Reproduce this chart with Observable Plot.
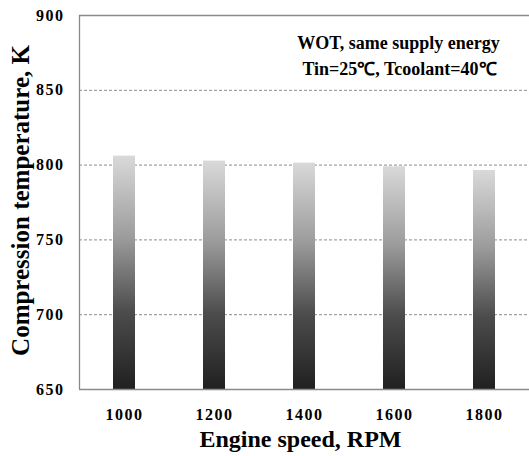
<!DOCTYPE html>
<html>
<head>
<meta charset="utf-8">
<script src="https://cdn.jsdelivr.net/npm/d3@7"></script>
<script src="https://cdn.jsdelivr.net/npm/@observablehq/plot@0.6"></script>
<style>
  html, body { margin: 0; padding: 0; background: #fff; }
  #chart svg { display: block; }
  #chart svg, #chart svg text { font-family: 'Liberation Serif', 'Times New Roman', serif !important; font-weight: bold; }
  #chart svg g[aria-label="x-axis tick label"] text,
  #chart svg g[aria-label="y-axis tick label"] text { letter-spacing: 1.5px; }
</style>
</head>
<body>
<div id="chart"></div>
<script>
const speeds = ["1000", "1200", "1400", "1600", "1800"];
const temps = [806.0, 802.7, 801.3, 798.9, 796.4];
const yTicks = [650, 700, 750, 800, 850, 900];
const gridTicks = [700, 750, 800, 850];
const yDomain = [650, 900];
const annotation = ["WOT, same supply energy", "Tin=25℃, Tcoolant=40℃"];
const xTitle = "Engine speed, RPM";
const yTitle = "Compression temperature, K";

const data = speeds.map((s, i) => ({speed: s, temp: temps[i]}));

const font = "'Liberation Serif', 'Times New Roman', serif";

const chart = Plot.plot({
  width: 529,
  height: 456,
  marginLeft: 79,
  marginRight: 0,
  marginTop: 15,
  marginBottom: 67,
  style: {fontFamily: font, fontWeight: "bold", fontSize: "16px", color: "#000", background: "#fff"},
  x: {domain: speeds, paddingInner: 0.755, paddingOuter: 0.3775, label: null},
  y: {domain: yDomain, label: null},
  marks: [
    () => {
      const ns = "http://www.w3.org/2000/svg";
      const defs = document.createElementNS(ns, "defs");
      defs.innerHTML = `<linearGradient id="barGrad" x1="0" y1="0" x2="0" y2="1">
        <stop offset="0" stop-color="#d9d9d9"/>
        <stop offset="0.35" stop-color="#9c9c9c"/>
        <stop offset="0.67" stop-color="#4c4c4c"/>
        <stop offset="1" stop-color="#202020"/>
      </linearGradient>`;
      return defs;
    },
    Plot.ruleY(gridTicks, {stroke: "#8c8c8c", strokeWidth: 1, strokeDasharray: "3,2"}),
    Plot.barY(data, {x: "speed", y1: () => yDomain[0], y2: "temp", fill: "url(#barGrad)"}),
    Plot.ruleY([yDomain[1]], {stroke: "#8a8a8a", strokeWidth: 1.3}),
    Plot.ruleY([yDomain[0]], {stroke: "#8a8a8a", strokeWidth: 1.3}),
    (index, scales, values, dim) => {
      const ns = "http://www.w3.org/2000/svg";
      const line = document.createElementNS(ns, "line");
      const x = dim.marginLeft + 0.5;
      line.setAttribute("x1", x);
      line.setAttribute("x2", x);
      line.setAttribute("y1", scales.y(yDomain[1]));
      line.setAttribute("y2", scales.y(yDomain[0]));
      line.setAttribute("stroke", "#8a8a8a");
      line.setAttribute("stroke-width", 1.3);
      return line;
    },
    Plot.axisY({ticks: yTicks, tickSize: 0, tickPadding: 15, fontSize: 16, label: null}),
    Plot.axisX({tickSize: 0, tickPadding: 19, fontSize: 16, label: null}),
    Plot.text([annotation[0]], {frameAnchor: "top-right", textAnchor: "middle", lineAnchor: "middle", dx: -131, dy: 28, fontSize: 18, fontWeight: "bold"}),
    Plot.text([annotation[1]], {frameAnchor: "top-right", textAnchor: "middle", lineAnchor: "middle", dx: -130, dy: 54, fontSize: 18, fontWeight: "bold"}),
    Plot.text([xTitle], {frameAnchor: "bottom", textAnchor: "middle", lineAnchor: "middle", dx: -4, dy: 50, fontSize: 24, fontWeight: "bold"}),
    Plot.text([yTitle], {frameAnchor: "left", textAnchor: "middle", lineAnchor: "middle", dx: -59, dy: -2, rotate: -90, fontSize: 25, fontWeight: "bold"})
  ]
});

document.getElementById("chart").appendChild(chart);
</script>
</body>
</html>
